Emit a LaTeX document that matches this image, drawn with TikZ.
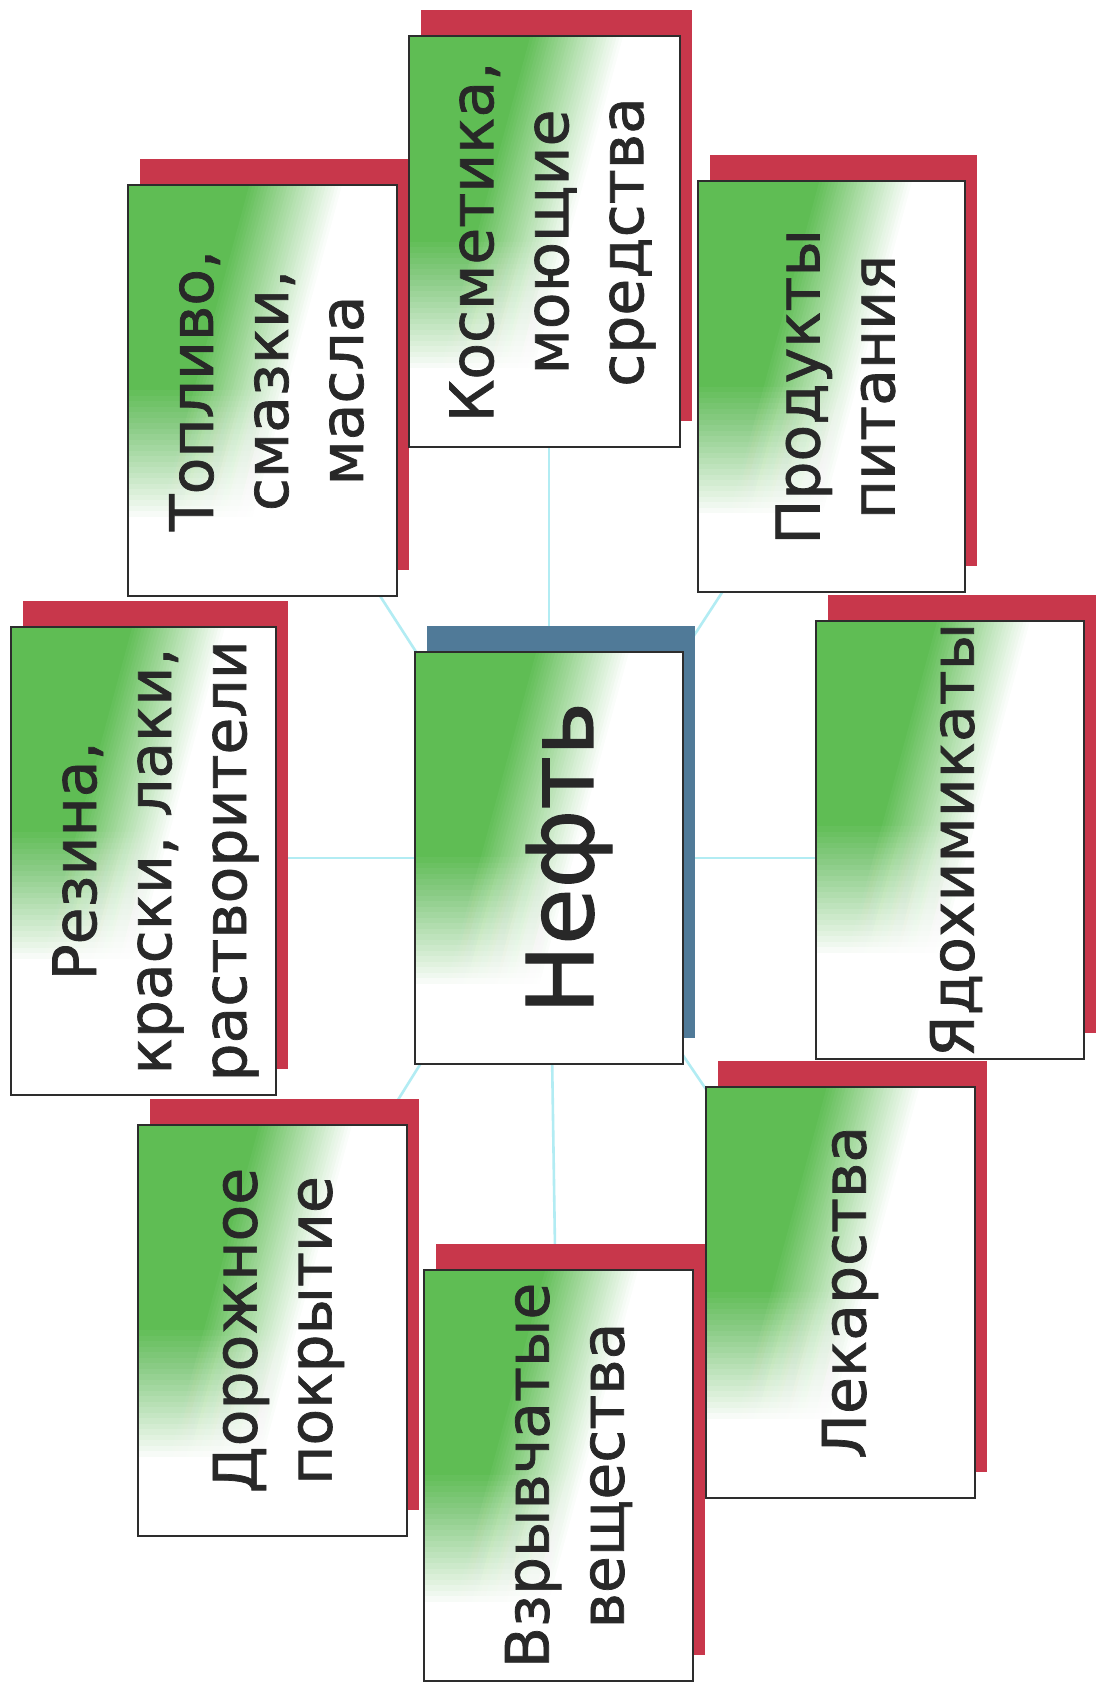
\documentclass[tikz,border=0pt]{standalone}
\usepackage{fontspec}
\setmainfont{DejaVu Sans}
\newfontfamily\cardfont{DejaVu Sans}[FakeBold=1.2]
\definecolor{gG}{RGB}{95,189,84}
\definecolor{shRed}{RGB}{200,55,75}
\definecolor{shBlue}{RGB}{80,122,152}
\definecolor{lnCyan}{RGB}{178,236,243}
\definecolor{txt}{RGB}{40,40,40}
\definecolor{brd}{RGB}{45,45,45}
\pgfdeclarelayer{bg}
\pgfdeclarelayer{lines}
\pgfdeclarelayer{shadows}
\pgfdeclarelayer{grad}
\pgfsetlayers{bg,lines,shadows,grad,main}
\newcommand\cardshadow[2]{\fill[#2] ([shift={(12,26)}]#1.south west) rectangle ([shift={(12,26)}]#1.north east);}
% green fill: slanted left-to-right fade, then a top-to-bottom fade to white
\newcommand\cardfill[1]{%
  \begin{scope}
    \clip (#1.south west) rectangle (#1.north east);
    \fill[gG] (#1.south west) rectangle (#1.north east);
    \begin{scope}[shift={(#1.north west)}]
      \foreach \k in {1,...,30} {
        \pgfmathsetmacro\aa{118+3.2*\k}
        \pgfmathtruncatemacro\pp{100-100*\k/30}
        \fill[gG!\pp!white] (\aa+54,200) -- (\aa-270,-1000) -- (\aa+2730,-1000) -- (\aa+3054,200) -- cycle;
      }
      \foreach \k in {1,...,24} {
        \pgfmathsetmacro\yy{200+5.5*\k}
        \pgfmathsetmacro\op{1/(25-\k)}
        \fill[white, fill opacity=\op] (-10,-\yy) rectangle (600,-1200);
      }
    \end{scope}
  \end{scope}}
\begin{document}
\begin{tikzpicture}[x=0.5pt,y=0.5pt,
  card/.style={draw=brd, line width=1pt, minimum width=134.5pt, minimum height=205.5pt, inner sep=0pt, outer sep=0pt},
  lbl/.style={rotate=90, align=center, text=txt, font=\cardfont\fontsize{30}{37.5}\selectfont, inner sep=0pt},
  conn/.style={draw=lnCyan, line width=1.3pt}]
\begin{pgfonlayer}{bg}
  \fill[white] (0,0) rectangle (1096,1684);
\end{pgfonlayer}
\useasboundingbox (0,0) rectangle (1096,1684);

% cards
\node[card] (top) at (262.5,1293.5) {};
\node[card, minimum width=135.5pt] (kos) at (544.5,1442) {};
\node[card, minimum width=133.5pt] (prod) at (831.5,1297) {};
\node[card, minimum width=132.5pt, minimum height=234pt] (rez) at (143.5,823) {};
\node[card, minimum width=134pt, minimum height=206pt] (neft) at (549,826) {};
\node[card, minimum width=134pt, minimum height=219pt] (yad) at (950,844) {};
\node[card] (dor) at (272.5,353.5) {};
\node[card] (vzr) at (558.5,208.5) {};
\node[card] (lek) at (840,391.5) {};

% labels
\node[lbl] (top-t) at ([xshift=2pt]top.center) {Топливо,\\смазки,\\масла};
\node[lbl] (kos-t) at ([xshift=4pt]kos.center) {Косметика,\\моющие\\средства};
\node[lbl] (prod-t) at ([xshift=2pt]prod.center) {Продукты\\питания};
\node[lbl] (rez-t) at ([xshift=6pt]rez.center) {Резина,\\краски, лаки,\\растворители};
\node[lbl, font=\cardfont\fontsize{46}{55}\selectfont] (neft-t) at ([xshift=10pt]neft.center) {Нефть};
\node[lbl] (yad-t) at ([xshift=3pt]yad.center) {Ядохимикаты};
\node[lbl] (dor-t) at ([xshift=3pt]dor.center) {Дорожное\\покрытие};
\node[lbl] (vzr-t) at ([xshift=5pt]vzr.center) {Взрывчатые\\вещества};
\node[lbl] (lek-t) at ([xshift=5pt]lek.center) {Лекарства};

% connector ends hidden behind the cards
\coordinate (lt) at ([xshift=-7.5pt]top.center);
\coordinate (rt) at ([xshift=12.25pt]prod.center);
\coordinate (lb) at ([xshift=-9.25pt]dor.center);
\coordinate (rb) at ([xshift=2pt]lek.center);

\begin{pgfonlayer}{lines}
  \draw[conn] (neft.center) -- (neft.center |- kos.center);
  \draw[conn] (neft.center) -- (vzr.center);
  \draw[conn] (neft.center) -- (neft.center -| rez.center);
  \draw[conn] (neft.center) -- (neft.center -| yad.center);
  \draw[conn] (neft.center) -- (lt);
  \draw[conn] (neft.center) -- (rt);
  \draw[conn] (neft.center) -- (lb);
  \draw[conn] (neft.center) -- (rb);
\end{pgfonlayer}

\begin{pgfonlayer}{shadows}
  \cardshadow{top}{shRed}
  \cardshadow{kos}{shRed}
  \cardshadow{prod}{shRed}
  \cardshadow{rez}{shRed}
  \cardshadow{neft}{shBlue}
  \cardshadow{yad}{shRed}
  \cardshadow{dor}{shRed}
  \cardshadow{vzr}{shRed}
  \cardshadow{lek}{shRed}
\end{pgfonlayer}

\begin{pgfonlayer}{grad}
  \cardfill{top}
  \cardfill{kos}
  \cardfill{prod}
  \cardfill{rez}
  \cardfill{neft}
  \cardfill{yad}
  \cardfill{dor}
  \cardfill{vzr}
  \cardfill{lek}
\end{pgfonlayer}
\end{tikzpicture}
\end{document}
